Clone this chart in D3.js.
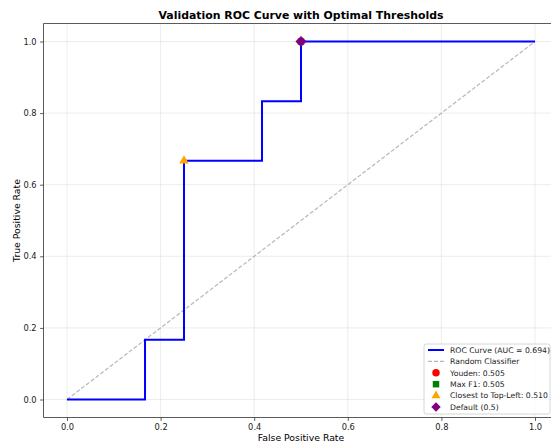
<!DOCTYPE html>
<html>
<head>
<meta charset="utf-8">
<script src="https://cdn.jsdelivr.net/npm/d3@7"></script>
<style>
  body { margin: 0; background: #fff; overflow: hidden; }
  svg { font-family: "DejaVu Sans", sans-serif; display: block; }
</style>
</head>
<body>
<svg id="chart" width="551" height="443"></svg>
<script>
// ROC curve points (step)
const fpr = [0, 0.1667, 0.1667, 0.25, 0.25, 0.4167, 0.4167, 0.5, 0.5, 1.0];
const tpr = [0, 0, 0.1667, 0.1667, 0.6667, 0.6667, 0.8333, 0.8333, 1.0, 1.0];
const diagonal = [0, 1];
const ticks = [0, 0.2, 0.4, 0.6, 0.8, 1.0];

// Optimal threshold markers
const markerNames = ["Youden", "Max F1", "Closest to Top-Left", "Default"];
const markerFpr = [0.5, 0.5, 0.25, 0.5];
const markerTpr = [1.0, 1.0, 0.6667, 1.0];
const markerLabels = ["Youden: 0.505", "Max F1: 0.505", "Closest to Top-Left: 0.510", "Default (0.5)"];
const markerColors = ["red", "green", "orange", "purple"];
const markerShapes = [d3.symbolCircle, d3.symbolSquare, d3.symbolTriangle, d3.symbolSquare];
const markerRotate = [0, 0, 0, 45];
const markerSizes = [40, 40, 40, 62];
const legendSizes = [44, 42, 34, 44];

const svg = d3.select("#chart");
const plotLeft = 43.6, plotRight = 558.4, plotTop = 23.6, plotBottom = 417.4;

const x = d3.scaleLinear().domain([-0.05, 1.05]).range([plotLeft, plotRight]);
const y = d3.scaleLinear().domain([-0.05, 1.05]).range([plotBottom, plotTop]);

// Grid
svg.append("g").selectAll("line").data(ticks).enter().append("line")
  .attr("x1", d => x(d)).attr("x2", d => x(d))
  .attr("y1", plotTop).attr("y2", plotBottom)
  .attr("stroke", "#b0b0b0").attr("stroke-opacity", 0.3).attr("stroke-width", 0.8);
svg.append("g").selectAll("line").data(ticks).enter().append("line")
  .attr("y1", d => y(d)).attr("y2", d => y(d))
  .attr("x1", plotLeft).attr("x2", plotRight)
  .attr("stroke", "#b0b0b0").attr("stroke-opacity", 0.3).attr("stroke-width", 0.8);

// Diagonal (random classifier)
svg.append("line")
  .attr("x1", x(diagonal[0])).attr("y1", y(diagonal[0]))
  .attr("x2", x(diagonal[1])).attr("y2", y(diagonal[1]))
  .attr("stroke", "#999").attr("stroke-opacity", 0.7)
  .attr("stroke-width", 1.2).attr("stroke-dasharray", "4,2");

// ROC line
const line = d3.line().x(d => x(d[0])).y(d => y(d[1]));
svg.append("path")
  .datum(fpr.map((f, i) => [f, tpr[i]]))
  .attr("d", line)
  .attr("fill", "none")
  .attr("stroke", "blue")
  .attr("stroke-width", 2);

// Markers
markerNames.forEach((name, i) => {
  svg.append("path")
    .attr("d", d3.symbol().type(markerShapes[i]).size(markerSizes[i]))
    .attr("transform", `translate(${x(markerFpr[i])},${y(markerTpr[i])}) rotate(${markerRotate[i]})`)
    .attr("fill", markerColors[i]);
});

// Axes
const xAxis = d3.axisBottom(x).tickValues(ticks).tickFormat(d3.format(".1f")).tickSize(3.5).tickPadding(3.5);
const yAxis = d3.axisLeft(y).tickValues(ticks).tickFormat(d3.format(".1f")).tickSize(3.5).tickPadding(3.5);

const gx = svg.append("g").attr("transform", `translate(0,${plotBottom})`).call(xAxis);
const gy = svg.append("g").attr("transform", `translate(${plotLeft},0)`).call(yAxis);
[gx, gy].forEach(g => {
  g.select(".domain").remove();
  g.selectAll("line").attr("stroke", "#333").attr("stroke-width", 0.8);
  g.selectAll("text").attr("font-size", "8.3px").attr("fill", "#222")
    .attr("font-family", "DejaVu Sans, sans-serif");
});

// Frame
svg.append("rect")
  .attr("x", plotLeft).attr("y", plotTop)
  .attr("width", plotRight - plotLeft).attr("height", plotBottom - plotTop)
  .attr("fill", "none").attr("stroke", "#333").attr("stroke-width", 0.8);

// Title and labels
svg.append("text")
  .attr("x", (plotLeft + plotRight) / 2).attr("y", 19)
  .attr("text-anchor", "middle").attr("font-size", "10.9px").attr("font-weight", "bold")
  .text("Validation ROC Curve with Optimal Thresholds");
svg.append("text")
  .attr("x", (plotLeft + plotRight) / 2).attr("y", 441)
  .attr("text-anchor", "middle").attr("font-size", "9.3px")
  .text("False Positive Rate");
svg.append("text")
  .attr("transform", `translate(20,${(plotTop + plotBottom) / 2}) rotate(-90)`)
  .attr("text-anchor", "middle").attr("font-size", "9.3px")
  .text("True Positive Rate");

// Legend
const legX = 424, legY = 344, legW = 126, legH = 70, rowH = 11.4;
const legend = svg.append("g");
legend.append("rect")
  .attr("x", legX).attr("y", legY).attr("width", legW).attr("height", legH)
  .attr("rx", 2).attr("fill", "#fff").attr("fill-opacity", 0.8)
  .attr("stroke", "#ccc").attr("stroke-width", 0.8);

const legendItems = [
  { label: "ROC Curve (AUC = 0.694)", kind: "line" },
  { label: "Random Classifier", kind: "dash" }
].concat(markerLabels.map((l, i) => ({ label: l, kind: "marker", i: i })));

legendItems.forEach((item, k) => {
  const cy = legY + 6 + k * rowH;
  if (item.kind === "line") {
    legend.append("line").attr("x1", legX + 4).attr("x2", legX + 20)
      .attr("y1", cy).attr("y2", cy).attr("stroke", "blue").attr("stroke-width", 2);
  } else if (item.kind === "dash") {
    legend.append("line").attr("x1", legX + 4).attr("x2", legX + 20)
      .attr("y1", cy).attr("y2", cy).attr("stroke", "#999").attr("stroke-opacity", 0.7)
      .attr("stroke-width", 1.2).attr("stroke-dasharray", "4,2");
  } else {
    legend.append("path")
      .attr("d", d3.symbol().type(markerShapes[item.i]).size(legendSizes[item.i]))
      .attr("transform", `translate(${legX + 12},${cy}) rotate(${markerRotate[item.i]})`)
      .attr("fill", markerColors[item.i]);
  }
  legend.append("text")
    .attr("x", legX + 26).attr("y", cy + 2.8)
    .attr("font-size", "7.7px").attr("fill", "#222")
    .text(item.label);
});
</script>
</body>
</html>
